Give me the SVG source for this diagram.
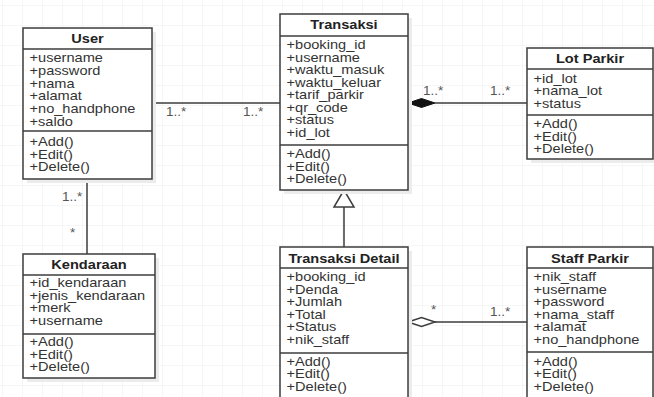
<svg xmlns="http://www.w3.org/2000/svg" width="654" height="397" viewBox="0 0 654 397">
<style>
.bg{fill:#ffffff}
.sh{fill:#ececec}
.box{fill:#ffffff;stroke:#3c3c3c;stroke-width:1.5}
.dv{stroke:#3c3c3c;stroke-width:1.5}
.ln{stroke:#3c3c3c;stroke-width:1.5;fill:none}
.t{font-family:"Liberation Sans",Arial,sans-serif;font-size:14.6px;fill:#333333}
.h{font-weight:bold;text-anchor:middle;fill:#222222}
.lb{font-family:"Liberation Sans",Arial,sans-serif;font-size:13.5px;fill:#555555}
</style>
<defs>
<pattern id="grid" width="20" height="20" patternUnits="userSpaceOnUse" x="3" y="6">
<path d="M20 0V20M0 20H20" stroke="#ececec" stroke-width="1" fill="none"/>
</pattern>
</defs>
<rect class="bg" width="654" height="397"/>
<rect width="654" height="397" fill="url(#grid)"/>

<g id="connectors">
<line class="ln" x1="152" y1="103" x2="280" y2="103"/>
<text class="lb" x="166" y="116">1..*</text>
<text class="lb" x="243" y="116">1..*</text>
<line class="ln" x1="435" y1="103" x2="527" y2="103"/>
<polygon points="408,103 421.5,98.5 435,103 421.5,107.5" fill="#111" stroke="#111" stroke-width="1"/>
<text class="lb" x="423" y="95">1..*</text>
<text class="lb" x="490" y="95">1..*</text>
<line class="ln" x1="87" y1="179" x2="87" y2="254"/>
<text class="lb" x="62" y="201">1..*</text>
<text class="lb" x="70" y="237">*</text>
<line class="ln" x1="344" y1="247" x2="344" y2="207"/>
<polygon points="344,190 334,207 354,207" fill="#fff" stroke="#3c3c3c" stroke-width="1.5"/>
<line class="ln" x1="435" y1="322" x2="527" y2="322"/>
<polygon points="408,322 421.5,317.5 435,322 421.5,326.5" fill="#fff" stroke="#3c3c3c" stroke-width="1.5"/>
<text class="lb" x="431" y="314">*</text>
<text class="lb" x="490" y="316">1..*</text>
</g>

<g id="user">
<rect class="sh" x="27" y="32" width="129" height="151"/>
<rect class="box" x="23" y="28" width="129" height="151"/>
<line class="dv" x1="23" y1="49" x2="152" y2="49"/>
<line class="dv" x1="23" y1="131" x2="152" y2="131"/>
<text class="t h" transform="matrix(1 0 0 0.89 87.5 42.5)">User</text>
<text class="t" transform="matrix(1 0 0 0.89 29.5 62)">+username</text>
<text class="t" transform="matrix(1 0 0 0.89 29.5 75)">+password</text>
<text class="t" transform="matrix(1 0 0 0.89 29.5 87.5)">+nama</text>
<text class="t" transform="matrix(1 0 0 0.89 29.5 100)">+alamat</text>
<text class="t" transform="matrix(1 0 0 0.89 29.5 113)">+no_handphone</text>
<text class="t" transform="matrix(1 0 0 0.89 29.5 126)">+saldo</text>
<text class="t" transform="matrix(1 0 0 0.89 29.5 146)">+Add()</text>
<text class="t" transform="matrix(1 0 0 0.89 29.5 158.5)">+Edit()</text>
<text class="t" transform="matrix(1 0 0 0.89 29.5 171)">+Delete()</text>
</g>

<g id="transaksi">
<rect class="sh" x="284" y="18" width="128" height="176"/>
<rect class="box" x="280" y="14" width="128" height="176"/>
<line class="dv" x1="280" y1="36" x2="408" y2="36"/>
<line class="dv" x1="280" y1="145" x2="408" y2="145"/>
<text class="t h" transform="matrix(1 0 0 0.89 344 29)">Transaksi</text>
<text class="t" transform="matrix(1 0 0 0.89 286.5 49)">+booking_id</text>
<text class="t" transform="matrix(1 0 0 0.89 286.5 61.5)">+username</text>
<text class="t" transform="matrix(1 0 0 0.89 286.5 74)">+waktu_masuk</text>
<text class="t" transform="matrix(1 0 0 0.89 286.5 86.5)">+waktu_keluar</text>
<text class="t" transform="matrix(1 0 0 0.89 286.5 99)">+tarif_parkir</text>
<text class="t" transform="matrix(1 0 0 0.89 286.5 111.5)">+qr_code</text>
<text class="t" transform="matrix(1 0 0 0.89 286.5 124)">+status</text>
<text class="t" transform="matrix(1 0 0 0.89 286.5 136.5)">+id_lot</text>
<text class="t" transform="matrix(1 0 0 0.89 286.5 158)">+Add()</text>
<text class="t" transform="matrix(1 0 0 0.89 286.5 170.5)">+Edit()</text>
<text class="t" transform="matrix(1 0 0 0.89 286.5 183)">+Delete()</text>
</g>

<g id="lot-parkir">
<rect class="sh" x="531" y="52" width="126" height="111"/>
<rect class="box" x="527" y="48" width="126" height="111"/>
<line class="dv" x1="527" y1="69" x2="653" y2="69"/>
<line class="dv" x1="527" y1="115" x2="653" y2="115"/>
<text class="t h" transform="matrix(1 0 0 0.89 590 62.5)">Lot Parkir</text>
<text class="t" transform="matrix(1 0 0 0.89 533.5 82.5)">+id_lot</text>
<text class="t" transform="matrix(1 0 0 0.89 533.5 95)">+nama_lot</text>
<text class="t" transform="matrix(1 0 0 0.89 533.5 107.5)">+status</text>
<text class="t" transform="matrix(1 0 0 0.89 533.5 128)">+Add()</text>
<text class="t" transform="matrix(1 0 0 0.89 533.5 140.5)">+Edit()</text>
<text class="t" transform="matrix(1 0 0 0.89 533.5 153)">+Delete()</text>
</g>

<g id="kendaraan">
<rect class="sh" x="27" y="258" width="132" height="124"/>
<rect class="box" x="23" y="254" width="132" height="124"/>
<line class="dv" x1="23" y1="275" x2="155" y2="275"/>
<line class="dv" x1="23" y1="334" x2="155" y2="334"/>
<text class="t h" transform="matrix(1 0 0 0.89 89 268.5)">Kendaraan</text>
<text class="t" transform="matrix(1 0 0 0.89 29.5 287)">+id_kendaraan</text>
<text class="t" transform="matrix(1 0 0 0.89 29.5 299.5)">+jenis_kendaraan</text>
<text class="t" transform="matrix(1 0 0 0.89 29.5 312)">+merk</text>
<text class="t" transform="matrix(1 0 0 0.89 29.5 324.5)">+username</text>
<text class="t" transform="matrix(1 0 0 0.89 29.5 346)">+Add()</text>
<text class="t" transform="matrix(1 0 0 0.89 29.5 358.5)">+Edit()</text>
<text class="t" transform="matrix(1 0 0 0.89 29.5 371)">+Delete()</text>
</g>

<g id="transaksi-detail">
<rect class="sh" x="284" y="251" width="128" height="160"/>
<rect class="box" x="280" y="247" width="128" height="160"/>
<line class="dv" x1="280" y1="268" x2="408" y2="268"/>
<line class="dv" x1="280" y1="353" x2="408" y2="353"/>
<text class="t h" transform="matrix(1 0 0 0.89 344 262.5)">Transaksi Detail</text>
<text class="t" transform="matrix(1 0 0 0.89 286.5 281)">+booking_id</text>
<text class="t" transform="matrix(1 0 0 0.89 286.5 293.5)">+Denda</text>
<text class="t" transform="matrix(1 0 0 0.89 286.5 306)">+Jumlah</text>
<text class="t" transform="matrix(1 0 0 0.89 286.5 318.5)">+Total</text>
<text class="t" transform="matrix(1 0 0 0.89 286.5 331)">+Status</text>
<text class="t" transform="matrix(1 0 0 0.89 286.5 343.5)">+nik_staff</text>
<text class="t" transform="matrix(1 0 0 0.89 286.5 365.5)">+Add()</text>
<text class="t" transform="matrix(1 0 0 0.89 286.5 378)">+Edit()</text>
<text class="t" transform="matrix(1 0 0 0.89 286.5 390.5)">+Delete()</text>
</g>

<g id="staff-parkir">
<rect class="sh" x="531" y="251" width="126" height="160"/>
<rect class="box" x="527" y="247" width="126" height="160"/>
<line class="dv" x1="527" y1="268" x2="653" y2="268"/>
<line class="dv" x1="527" y1="352" x2="653" y2="352"/>
<text class="t h" transform="matrix(1 0 0 0.89 590 262.5)">Staff Parkir</text>
<text class="t" transform="matrix(1 0 0 0.89 533.5 281)">+nik_staff</text>
<text class="t" transform="matrix(1 0 0 0.89 533.5 293.5)">+username</text>
<text class="t" transform="matrix(1 0 0 0.89 533.5 306)">+password</text>
<text class="t" transform="matrix(1 0 0 0.89 533.5 318.5)">+nama_staff</text>
<text class="t" transform="matrix(1 0 0 0.89 533.5 331)">+alamat</text>
<text class="t" transform="matrix(1 0 0 0.89 533.5 343.5)">+no_handphone</text>
<text class="t" transform="matrix(1 0 0 0.89 533.5 365.5)">+Add()</text>
<text class="t" transform="matrix(1 0 0 0.89 533.5 378)">+Edit()</text>
<text class="t" transform="matrix(1 0 0 0.89 533.5 390.5)">+Delete()</text>
</g>
</svg>
